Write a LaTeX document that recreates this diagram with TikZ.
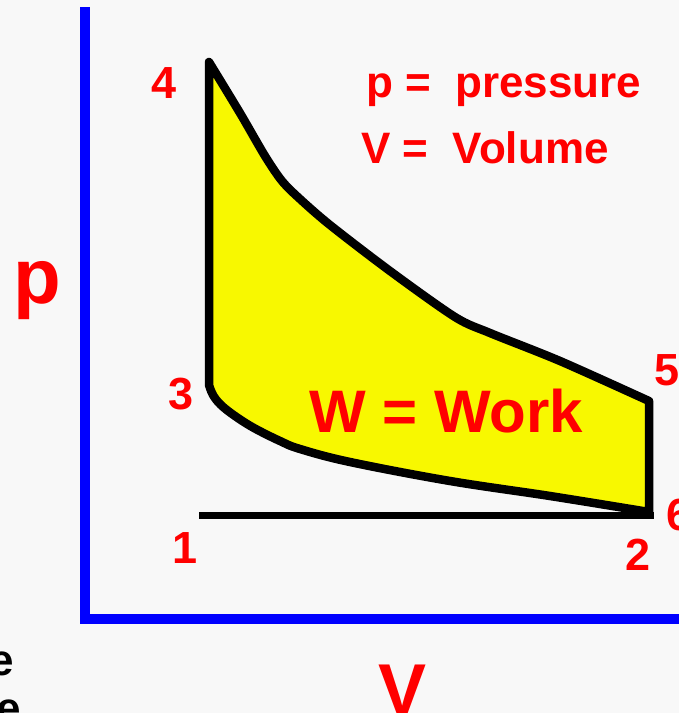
\documentclass[tikz,border=0pt]{standalone}
\usepackage{fontspec}
\setmainfont{Liberation Sans}
\usepackage{tikz}
\usetikzlibrary{positioning}
\definecolor{bgcol}{RGB}{248,248,248}
\definecolor{workyel}{RGB}{248,248,0}

\begin{document}
\begin{tikzpicture}[
  x=1pt, y=-1pt,
  axis/.style={draw=blue, line width=10pt, line join=miter},
  loop/.style={draw=black, fill=workyel, line width=8.5pt, line join=round},
  stroke/.style={draw=black, line width=7pt},
  num/.style={text=red, font=\bfseries\fontsize{45}{50}\selectfont, inner sep=0pt, anchor=base},
  lbl/.style={text=red, font=\bfseries\fontsize{44}{50}\selectfont, inner sep=0pt, anchor=base west},
  big/.style={text=red, font=\bfseries\fontsize{78}{80}\selectfont, inner sep=0pt, anchor=base},
  frag/.style={text=black, font=\bfseries\fontsize{44}{50}\selectfont, inner sep=0pt, anchor=base east}
]
\useasboundingbox (0,0) rectangle (679,713);
\clip (0,0) rectangle (679,713);
\fill[bgcol] (0,0) rectangle (679,713);

\coordinate (top) at (85,7);
\coordinate (corner) at (85,619);
\coordinate (right) at (680,619);
\draw[axis] (top) -- (corner) -- (right);

\coordinate (c4) at (209,62);
\coordinate (c3) at (209,385);
\coordinate (c6) at (649,512);
\coordinate (c5) at (649,401);
\path[loop] (c4) -- (c3)
  -- plot[smooth, tension=0.6] coordinates {(c3) (213,395) (221,405) (235,416) (254,428) (280,441) (300,449) (350,462) (450,481) (550,496) (c6)}
  -- (c5)
  -- plot[smooth, tension=0.5] coordinates {(c5) (560,361) (490,333) (455,317) (390,271) (330,225) (300,199) (282,181) (265,156) (240,113) (c4)}
  -- cycle;

\coordinate (b1) at (199,515.5);
\coordinate (b2) at (654,515.5);
\draw[stroke] (b1) -- (b2);

\node[num] (n4) at (164,98) {4};
\node[num] (n3) at (181,409) {3};
\node[num] (n5) at (667,385) {5};
\node[num, anchor=base west] (n6) at (666,530) {6};
\node[num] (n1) at (185,563) {1};
\node[num] (n2) at (638,570) {2};

\node[lbl] (press) at (366,97) {p =\ \ pressure};
\node[lbl] (vol) at (361,163) {V =\ \ Volume};
\node[lbl, font=\bfseries\fontsize{60}{64}\selectfont] (work) at (309,432) {W = Work};

\node[big] (pax) at (37,303) {p};
\node[big, font=\bfseries\fontsize{72}{76}\selectfont] (vax) at (403,714) {V};

\node[frag] (e1) at (14,675) {e};
\node[frag] (e2) at (21,723) {e};
\end{tikzpicture}
\end{document}
